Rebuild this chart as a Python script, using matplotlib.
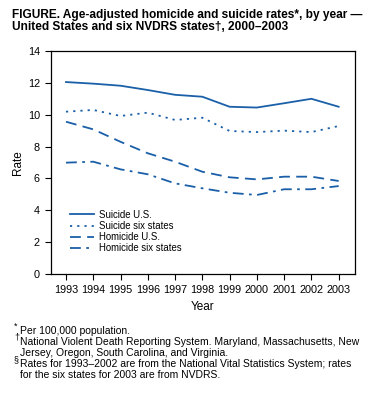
import matplotlib
matplotlib.use("Agg")
import matplotlib.pyplot as plt

plt.rcParams["font.family"] = ["Liberation Sans", "DejaVu Sans"]

# values
years = [1993, 1994, 1995, 1996, 1997, 1998, 1999, 2000, 2001, 2002, 2003]
suicide_us = [12.05, 11.95, 11.82, 11.55, 11.25, 11.13, 10.5, 10.45, 10.72, 11.0, 10.5]
suicide_six = [10.19, 10.3, 9.92, 10.13, 9.67, 9.81, 8.98, 8.91, 9.0, 8.91, 9.29]
homicide_us = [9.56, 9.08, 8.3, 7.58, 7.05, 6.42, 6.07, 5.94, 6.11, 6.11, 5.84]
homicide_six = [6.99, 7.05, 6.57, 6.26, 5.69, 5.38, 5.1, 4.96, 5.32, 5.32, 5.52]
yticks = [0, 2, 4, 6, 8, 10, 12, 14]

blue = "#1a5fa8"
W, H = 370, 396

fig = plt.figure(figsize=(W / 100, H / 100), dpi=100)
ax = fig.add_axes([51 / W, 1 - 274 / H, (355 - 51) / W, (274 - 51) / H])

ax.plot(years, suicide_us, color=blue, lw=1.3, ls="-", label="Suicide U.S.")
ax.plot(years, suicide_six, color=blue, lw=1.3, ls=(0, (1.2, 2.8)), label="Suicide six states")
ax.plot(years, homicide_us, color=blue, lw=1.3, ls=(0, (6, 3.5)), label="Homicide U.S.")
ax.plot(years, homicide_six, color=blue, lw=1.3, ls=(0, (6, 3, 1.5, 3)), label="Homicide six states")

ax.set_xlim(1992.45, 2003.6)
ax.set_ylim(0, 14)
ax.set_xticks(years)
ax.set_yticks(yticks)
ax.tick_params(direction="out", length=4, width=0.8, labelsize=7.8, pad=4)
for s in ax.spines.values():
    s.set_linewidth(0.9)

ax.set_ylabel("Rate", fontsize=8.5, labelpad=3)
ax.set_xlabel("Year", fontsize=8.5, labelpad=4)

ax.legend(loc="upper left", bbox_to_anchor=(0.05, 0.305), frameon=False,
          fontsize=6.9, handlelength=2.5, handletextpad=0.5, labelspacing=0.12,
          borderaxespad=0)

fig.text(12 / W, 1 - 9 / H, "FIGURE. Age-adjusted homicide and suicide rates*, by year \u2014\n"
         "United States and six NVDRS states\u2020, 2000\u20132003",
         ha="left", va="top", fontsize=8.6, fontweight="bold", linespacing=1.0)

notes = [
    ("*", "Per 100,000 population."),
    ("\u2020", "National Violent Death Reporting System. Maryland, Massachusetts, New"),
    ("", "Jersey, Oregon, South Carolina, and Virginia."),
    ("\u00a7", "Rates for 1993\u20132002 are from the National Vital Statistics System; rates"),
    ("", "for the six states for 2003 are from NVDRS."),
]
y0 = 331
for i, (mark, txt) in enumerate(notes):
    y = y0 + i * 11
    fig.text(20 / W, 1 - y / H, txt, ha="left", va="center", fontsize=7.5)
    if mark:
        fig.text(14 / W, 1 - (y - 4.5) / H, mark, ha="left", va="center", fontsize=6.5)

fig.savefig("out.png", dpi=100)
